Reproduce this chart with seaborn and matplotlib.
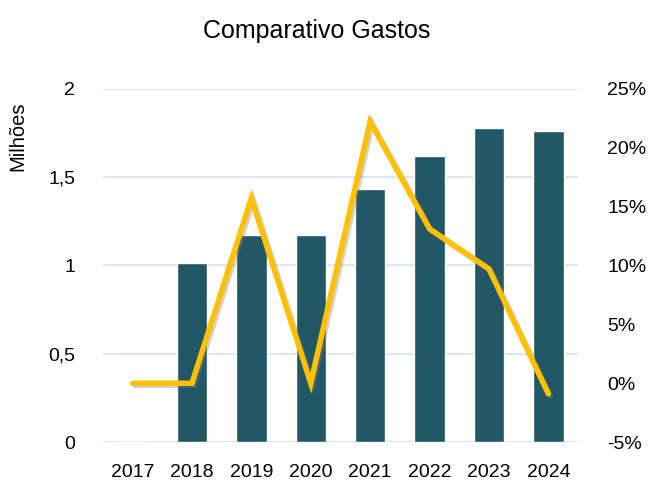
import matplotlib
matplotlib.use("Agg")
import matplotlib.pyplot as plt
import matplotlib.patheffects as pe
from matplotlib.ticker import FuncFormatter
import seaborn as sns
import pandas as pd
import numpy as np

# Data
years = ["2017", "2018", "2019", "2020", "2021", "2022", "2023", "2024"]
gastos = [0.0, 1.012, 1.171, 1.171, 1.431, 1.619, 1.776, 1.761]   # milhões
variacao = [0.0, 0.0, 15.7, 0.0, 22.2, 13.1, 9.7, -0.9]          # %

bar_color = "#225766"
line_color = "#FFC000"
grid_color = "#D6E0EE"

sns.set_style("white")
plt.rcParams['font.family'] = ['Liberation Sans', 'DejaVu Sans']
plt.rcParams['text.color'] = 'black'
plt.rcParams['xtick.color'] = 'black'
plt.rcParams['ytick.color'] = 'black'
plt.rcParams['axes.labelcolor'] = 'black'

df = pd.DataFrame({"ano": years, "gastos": gastos, "variacao": variacao})
df["pos"] = np.arange(len(df))

fig = plt.figure(figsize=(6.51, 4.87), dpi=100)
ax = fig.add_axes([0.158, 0.092, 0.73, 0.726])

sns.barplot(data=df, x="ano", y="gastos", color=bar_color, width=0.51,
            saturation=1, ax=ax, zorder=2)
ax.set_ylim(0, 2)
ax.set_yticks([0, 0.5, 1, 1.5, 2])
ax.yaxis.set_major_formatter(FuncFormatter(lambda v, p: f"{v:g}".replace(".", ",")))
ax.grid(axis="y", color=grid_color, linewidth=1.2, zorder=0)
ax.set_axisbelow(True)
ax.set_xlabel("")
ax.set_ylabel("Milhões", fontsize=14.5)
ax.yaxis.set_label_coords(-0.158, 0.865)
ax.set_xlim(-0.5, len(years) - 0.5)
ax.tick_params(axis="y", length=0, pad=20, labelsize=14)
ax.tick_params(axis="x", length=0, pad=16, labelsize=14)
for s in ax.spines.values():
    s.set_visible(False)

ax2 = ax.twinx()
sns.lineplot(data=df, x="pos", y="variacao", color=line_color, linewidth=4,
             ax=ax2, solid_capstyle="round", solid_joinstyle="miter",
             path_effects=[pe.SimpleLineShadow(offset=(1.5, -1.5), shadow_color="gray", alpha=0.35),
                           pe.Normal()])
ax2.set_ylim(-5, 25)
ax2.set_yticks([-5, 0, 5, 10, 15, 20, 25])
ax2.yaxis.set_major_formatter(FuncFormatter(lambda v, p: f"{v:.0f}%"))
ax2.tick_params(axis="y", length=0, pad=21, labelsize=14)
ax2.set_ylabel("")
ax2.set_xlabel("")
ax2.grid(False)
for s in ax2.spines.values():
    s.set_visible(False)
ax.set_xlim(-0.5, len(years) - 0.5)

fig.suptitle("Comparativo Gastos", fontsize=18, x=0.487, y=0.962)

fig.savefig("out.png", dpi=100)
